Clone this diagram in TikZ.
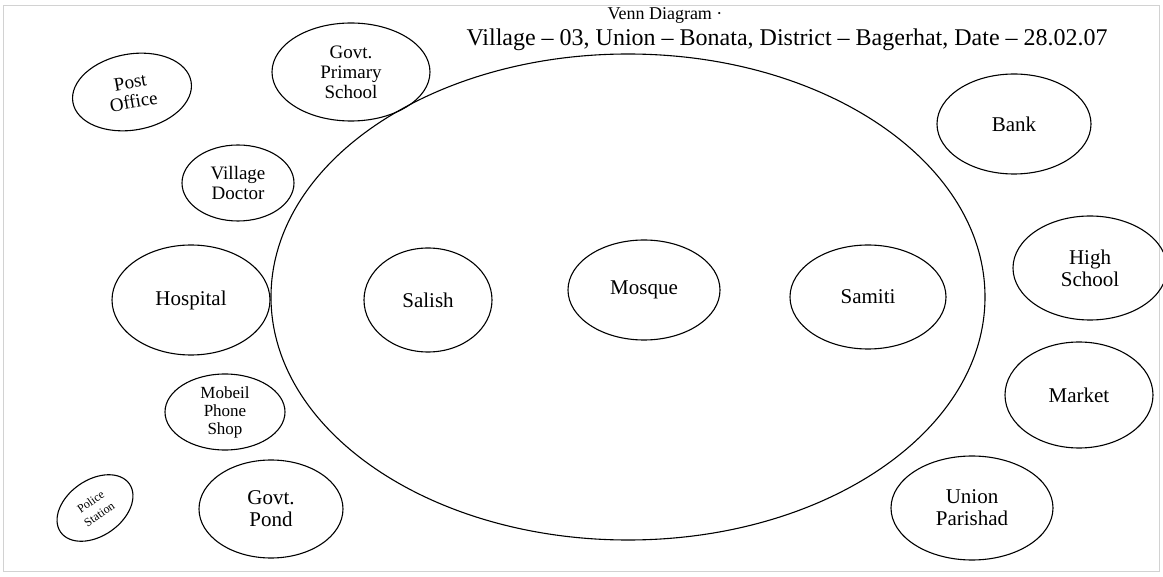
\documentclass[tikz,border=0pt]{standalone}
\usepackage{fontspec}
\setmainfont{Liberation Serif}
\usetikzlibrary{shapes.geometric}
\begin{document}
\begin{tikzpicture}[x=1pt,y=-1pt,
  blob/.style={ellipse,draw,line width=1.1pt,inner sep=0pt,align=center,font=\fontsize{21}{22}\selectfont},
  small/.style={font=\fontsize{19}{20}\selectfont},
  lbl/.style={font=\fontsize{24}{26}\selectfont}]
\useasboundingbox (0,0) rectangle (1163,577);
\fill[white] (0,0) rectangle (1163,577);
\draw[gray!35,line width=1pt] (3,6) rectangle (1159,571);
% title
\node[font=\fontsize{18}{20}\selectfont,anchor=base] (title) at (665,20) {Venn Diagram ·};
\node[lbl,anchor=base west] (sub) at (463,46) {Village – 03, Union – Bonata, District – Bagerhat, Date – 28.02.07};
% big circle
\node[ellipse,draw,line width=1.1pt,minimum width=714pt,minimum height=486pt] (village) at (628,297) {};
% inner
\node[blob,minimum width=128pt,minimum height=104pt] (salish) at (428,300) {Salish};
\node[blob,minimum width=152pt,minimum height=100pt] (mosque) at (644,290) {Mosque};
\node[blob,minimum width=156pt,minimum height=104pt] (samiti) at (868,297) {Samiti};
% left
\node[blob,small,rotate=10,minimum width=120pt,minimum height=76pt] (post) at (132,92) {Post\\Office};
\node[blob,small,minimum width=158pt,minimum height=98pt] (school) at (351,72) {Govt.\\Primary\\School};
\node[blob,small,minimum width=112pt,minimum height=76pt] (doctor) at (238,183) {Village\\Doctor};
\node[blob,minimum width=158pt,minimum height=110pt] (hospital) at (191,300) {Hospital};
\node[blob,font=\fontsize{17}{18}\selectfont,minimum width=120pt,minimum height=76pt] (mobile) at (225,412) {Mobeil\\Phone\\Shop};
\node[blob,rotate=35,minimum width=84pt,minimum height=56pt,font=\fontsize{12}{15}\selectfont] (police) at (95,508) {Police\\Station};
\node[blob,minimum width=144pt,minimum height=98pt] (pond) at (271,509) {Govt.\\Pond};
% right
\node[blob,minimum width=154pt,minimum height=100pt] (bank) at (1014,124) {Bank};
\node[blob,minimum width=154pt,minimum height=104pt] (high) at (1090,268) {High\\School};
\node[blob,minimum width=148pt,minimum height=106pt] (market) at (1079,395) {Market};
\node[blob,minimum width=162pt,minimum height=104pt] (union) at (972,508) {Union\\Parishad};
\end{tikzpicture}
\end{document}
